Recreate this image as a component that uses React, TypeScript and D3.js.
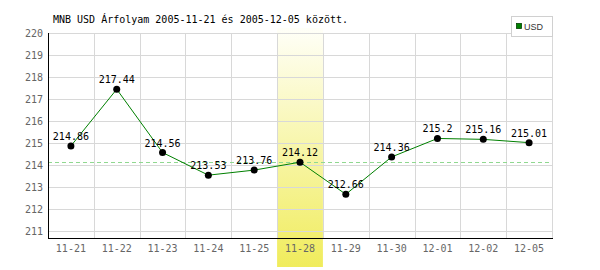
import React from "react";
import * as d3 from "d3";

const categories = ["11-21", "11-22", "11-23", "11-24", "11-25", "11-28", "11-29", "11-30", "12-01", "12-02", "12-05"];
const usdValues = [214.86, 217.44, 214.56, 213.53, 213.76, 214.12, 212.66, 214.36, 215.2, 215.16, 215.01];
const yTicks = [211, 212, 213, 214, 215, 216, 217, 218, 219, 220];
const highlightCategory = "11-28";
const referenceValue = 214.12;
const title = "MNB USD Árfolyam 2005-11-21 és 2005-12-05 között.";
const seriesName = "USD";

export default function App() {
  const W = 600, H = 270;
  const left = 48, right = 552, top = 33, bottom = 238;
  const x = d3.scaleBand<string>().domain(categories).range([left, right]).padding(0);
  const y = d3.scaleLinear().domain([210.67, 220]).range([bottom, top]);
  const cx = (c: string) => (x(c) as number) + x.bandwidth() / 2;
  const line = d3.line<number>().x((_, i) => cx(categories[i])).y((v) => y(v));
  const mono = "'DejaVu Sans Mono', monospace";
  const hx = x(highlightCategory) as number;

  return (
    <svg width={W} height={H} style={{ position: "absolute", left: 0, top: 0, background: "#fff" }}>
      <defs>
        <linearGradient id="hl" x1="0" y1="0" x2="0" y2="1">
          <stop offset="0" stopColor="#fffff8" />
          <stop offset="1" stopColor="#f0ec5c" />
        </linearGradient>
      </defs>
      <rect x={0} y={0} width={W} height={H} fill="#fff" />
      <rect x={hx} y={28} width={x.bandwidth()} height={267 - 28} fill="url(#hl)" />
      {yTicks.map((t) => (
        <line key={"h" + t} x1={left} x2={right} y1={Math.round(y(t)) + 0.5} y2={Math.round(y(t)) + 0.5} stroke="#d8d8d8" strokeWidth={1} />
      ))}
      {categories.map((c, i) => (
        <line key={"v" + c} x1={Math.round((x(c) as number) + x.bandwidth()) + 0.5} x2={Math.round((x(c) as number) + x.bandwidth()) + 0.5} y1={top} y2={bottom} stroke="#d8d8d8" strokeWidth={1} />
      ))}
      <line x1={left} x2={right} y1={Math.round(y(referenceValue)) + 0.5} y2={Math.round(y(referenceValue)) + 0.5} stroke="#90d890" strokeDasharray="4,3" />
      <line x1={left + 0.5} x2={left + 0.5} y1={top} y2={bottom + 1} stroke="#000" />
      <line x1={left} x2={right + 1} y1={bottom + 0.5} y2={bottom + 0.5} stroke="#000" />
      {yTicks.map((t) => (
        <text key={"yt" + t} x={43} y={y(t) + 4} textAnchor="end" fontFamily={mono} fontSize={10} fill="#666">{t}</text>
      ))}
      {categories.map((c) => (
        <text key={"xt" + c} x={cx(c)} y={252} textAnchor="middle" fontFamily={mono} fontSize={10} fill="#666">{c}</text>
      ))}
      <path d={line(usdValues) || ""} fill="none" stroke="#008000" strokeWidth={1} />
      {usdValues.map((v, i) => (
        <circle key={"p" + i} cx={cx(categories[i])} cy={y(v)} r={3.5} fill="#000" />
      ))}
      {usdValues.map((v, i) => (
        <text key={"l" + i} x={cx(categories[i])} y={y(v) - 6} textAnchor="middle" fontFamily={mono} fontSize={10} fill="#000">{String(v)}</text>
      ))}
      <text x={53} y={23} fontFamily={mono} fontSize={10} fill="#000">{title}</text>
      <rect x={511.5} y={16.5} width={41} height={20} fill="#fff" stroke="#d0d0d0" />
      <rect x={516.5} y={23.5} width={5} height={5} fill="#008000" stroke="#004000" strokeWidth={0.8} />
      <text x={524} y={30} fontFamily="'Liberation Sans', Arial, sans-serif" fontSize={9} fill="#333">{seriesName}</text>
    </svg>
  );
}
